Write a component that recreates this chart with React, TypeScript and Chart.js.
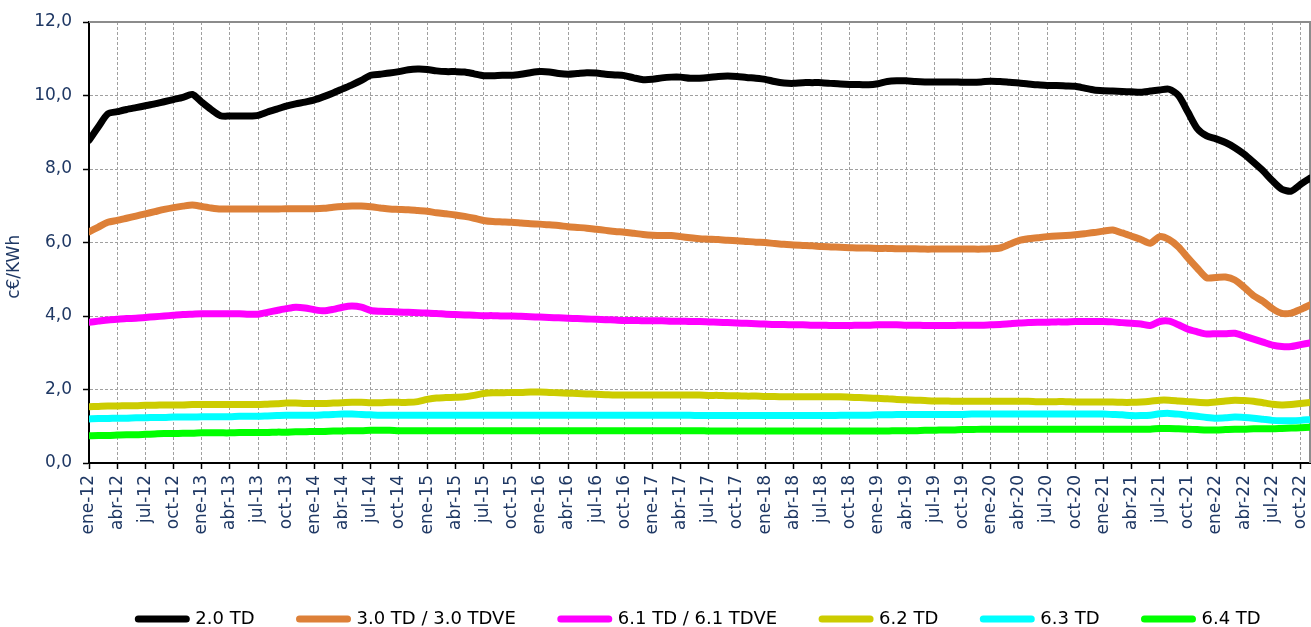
import React, { useEffect, useRef } from 'react';
import { Chart, registerables } from 'chart.js';

Chart.register(...registerables);

// ---- categories ----
const MONTH_NAMES = ['ene', 'feb', 'mar', 'abr', 'may', 'jun', 'jul', 'ago', 'sep', 'oct', 'nov', 'dic'];
const YEARS = ['12', '13', '14', '15', '16', '17', '18', '19', '20', '21', '22'];
const MONTHS_IN_LAST_YEAR = 11; // ene-22 .. nov-22
const CATEGORIES: string[] = [];
YEARS.forEach((yy, yi) => {
  MONTH_NAMES.forEach((m, mi) => {
    if (yi < YEARS.length - 1 || mi < MONTHS_IN_LAST_YEAR) CATEGORIES.push(`${m}-${yy}`);
  });
});

// ---- series (c€/KWh) ----
const SERIES_20TD = [
  8.78, 9.15, 9.50, 9.56, 9.62, 9.67, 9.72, 9.77, 9.83, 9.89, 9.95, 10.03,
  9.82, 9.62, 9.45, 9.44, 9.44, 9.44, 9.46, 9.55, 9.63, 9.71, 9.77, 9.82,
  9.88, 9.97, 10.07, 10.18, 10.29, 10.41, 10.55, 10.58, 10.61, 10.65, 10.70, 10.72,
  10.71, 10.67, 10.65, 10.65, 10.64, 10.59, 10.54, 10.54, 10.55, 10.55, 10.58, 10.62,
  10.65, 10.64, 10.60, 10.58, 10.60, 10.62, 10.61, 10.58, 10.56, 10.54, 10.48, 10.43,
  10.44, 10.48, 10.50, 10.50, 10.47, 10.47, 10.49, 10.52, 10.53, 10.52, 10.49, 10.47,
  10.44, 10.38, 10.34, 10.33, 10.35, 10.35, 10.35, 10.33, 10.31, 10.30, 10.30, 10.29,
  10.32, 10.38, 10.40, 10.40, 10.38, 10.37, 10.37, 10.37, 10.37, 10.36, 10.36, 10.37,
  10.39, 10.38, 10.36, 10.34, 10.31, 10.29, 10.27, 10.27, 10.26, 10.25, 10.20, 10.15,
  10.13, 10.12, 10.11, 10.10, 10.09, 10.12, 10.15, 10.17, 10.00, 9.55, 9.10, 8.90,
  8.82, 8.72, 8.58, 8.40, 8.18, 7.95, 7.68, 7.45, 7.40, 7.58, 7.75,
];
const SERIES_30TD = [
  6.29, 6.42, 6.55, 6.60, 6.66, 6.72, 6.78, 6.84, 6.90, 6.95, 6.99, 7.02,
  6.98, 6.94, 6.91, 6.91, 6.91, 6.91, 6.91, 6.91, 6.91, 6.92, 6.92, 6.92,
  6.92, 6.93, 6.96, 6.98, 6.99, 6.99, 6.97, 6.94, 6.91, 6.90, 6.89, 6.87,
  6.85, 6.81, 6.78, 6.75, 6.71, 6.66, 6.60, 6.57, 6.56, 6.55, 6.53, 6.51,
  6.50, 6.48, 6.46, 6.43, 6.41, 6.39, 6.36, 6.33, 6.30, 6.28, 6.25, 6.22,
  6.20, 6.19, 6.19, 6.16, 6.13, 6.10, 6.09, 6.08, 6.06, 6.05, 6.03, 6.01,
  6.00, 5.97, 5.95, 5.93, 5.92, 5.91, 5.89, 5.88, 5.87, 5.86, 5.85, 5.85,
  5.84, 5.84, 5.83, 5.83, 5.83, 5.82, 5.82, 5.82, 5.82, 5.82, 5.82, 5.82,
  5.83, 5.85, 5.95, 6.05, 6.10, 6.13, 6.16, 6.18, 6.19, 6.21, 6.24, 6.27,
  6.31, 6.34, 6.26, 6.17, 6.08, 5.98, 6.16, 6.08, 5.88, 5.58, 5.30, 5.04,
  5.05, 5.06, 4.98, 4.78, 4.55, 4.40, 4.20, 4.07, 4.08, 4.18, 4.30,
];
const SERIES_61TD = [
  3.83, 3.86, 3.89, 3.91, 3.93, 3.94, 3.96, 3.98, 4.00, 4.02, 4.04, 4.05,
  4.06, 4.06, 4.06, 4.06, 4.06, 4.05, 4.05, 4.10, 4.15, 4.20, 4.24, 4.22,
  4.17, 4.14, 4.18, 4.24, 4.27, 4.24, 4.15, 4.13, 4.12, 4.11, 4.10, 4.09,
  4.08, 4.07, 4.05, 4.04, 4.03, 4.02, 4.01, 4.01, 4.00, 4.00, 3.99, 3.98,
  3.97, 3.96, 3.95, 3.94, 3.93, 3.92, 3.91, 3.90, 3.89, 3.88, 3.88, 3.87,
  3.87, 3.87, 3.86, 3.86, 3.85, 3.85, 3.84, 3.83, 3.82, 3.81, 3.80, 3.79,
  3.78, 3.77, 3.77, 3.76, 3.76, 3.75, 3.75, 3.74, 3.74, 3.74, 3.75, 3.75,
  3.76, 3.76, 3.76, 3.75, 3.75, 3.74, 3.74, 3.74, 3.74, 3.75, 3.75, 3.75,
  3.76, 3.77, 3.79, 3.81, 3.82, 3.83, 3.83, 3.84, 3.84, 3.85, 3.85, 3.85,
  3.85, 3.84, 3.82, 3.80, 3.78, 3.74, 3.85, 3.86, 3.76, 3.64, 3.57, 3.51,
  3.52, 3.52, 3.53, 3.45, 3.37, 3.29, 3.21, 3.17, 3.17, 3.22, 3.27,
];
const SERIES_62TD = [
  1.53, 1.54, 1.55, 1.55, 1.56, 1.56, 1.57, 1.57, 1.58, 1.58, 1.58, 1.59,
  1.59, 1.59, 1.59, 1.59, 1.59, 1.59, 1.59, 1.60, 1.61, 1.63, 1.63, 1.62,
  1.62, 1.62, 1.63, 1.64, 1.65, 1.65, 1.64, 1.64, 1.65, 1.65, 1.65, 1.67,
  1.73, 1.77, 1.78, 1.79, 1.80, 1.84, 1.89, 1.91, 1.91, 1.92, 1.92, 1.93,
  1.93, 1.92, 1.91, 1.90, 1.89, 1.88, 1.87, 1.86, 1.85, 1.85, 1.85, 1.85,
  1.85, 1.85, 1.85, 1.85, 1.85, 1.85, 1.84, 1.84, 1.83, 1.83, 1.82, 1.82,
  1.81, 1.81, 1.80, 1.80, 1.80, 1.80, 1.80, 1.80, 1.80, 1.79, 1.78, 1.77,
  1.76, 1.75, 1.73, 1.72, 1.71, 1.70, 1.69, 1.69, 1.68, 1.68, 1.68, 1.68,
  1.68, 1.68, 1.68, 1.68, 1.68, 1.67, 1.67, 1.67, 1.67, 1.66, 1.66, 1.66,
  1.66, 1.66, 1.65, 1.65, 1.66, 1.68, 1.71, 1.71, 1.69, 1.67, 1.65, 1.64,
  1.66, 1.69, 1.71, 1.70, 1.68, 1.64, 1.60, 1.58, 1.59, 1.62, 1.65,
];
const SERIES_63TD = [
  1.20, 1.21, 1.21, 1.22, 1.22, 1.23, 1.23, 1.24, 1.24, 1.25, 1.25, 1.25,
  1.26, 1.26, 1.26, 1.26, 1.27, 1.27, 1.27, 1.28, 1.29, 1.30, 1.30, 1.30,
  1.30, 1.31, 1.32, 1.33, 1.33, 1.32, 1.31, 1.30, 1.30, 1.30, 1.30, 1.30,
  1.30, 1.30, 1.30, 1.30, 1.30, 1.30, 1.30, 1.30, 1.30, 1.30, 1.30, 1.30,
  1.30, 1.30, 1.30, 1.30, 1.30, 1.30, 1.30, 1.30, 1.30, 1.30, 1.30, 1.30,
  1.30, 1.30, 1.30, 1.30, 1.30, 1.29, 1.29, 1.29, 1.29, 1.29, 1.29, 1.29,
  1.29, 1.29, 1.29, 1.29, 1.29, 1.29, 1.29, 1.29, 1.30, 1.30, 1.30, 1.30,
  1.31, 1.31, 1.32, 1.32, 1.32, 1.32, 1.32, 1.32, 1.32, 1.32, 1.33, 1.33,
  1.33, 1.33, 1.33, 1.33, 1.33, 1.33, 1.33, 1.33, 1.33, 1.33, 1.33, 1.33,
  1.33, 1.32, 1.31, 1.29, 1.29, 1.30, 1.34, 1.35, 1.33, 1.30, 1.27, 1.24,
  1.22, 1.23, 1.25, 1.24, 1.22, 1.19, 1.16, 1.15, 1.15, 1.16, 1.18,
];
const SERIES_64TD = [
  0.74, 0.75, 0.75, 0.76, 0.77, 0.77, 0.78, 0.79, 0.80, 0.80, 0.81, 0.81,
  0.82, 0.82, 0.82, 0.82, 0.83, 0.83, 0.83, 0.83, 0.84, 0.84, 0.85, 0.85,
  0.86, 0.86, 0.87, 0.87, 0.88, 0.88, 0.89, 0.89, 0.89, 0.88, 0.88, 0.88,
  0.88, 0.88, 0.88, 0.88, 0.88, 0.88, 0.88, 0.88, 0.88, 0.88, 0.88, 0.88,
  0.88, 0.88, 0.88, 0.88, 0.88, 0.88, 0.88, 0.88, 0.88, 0.88, 0.88, 0.88,
  0.88, 0.88, 0.88, 0.88, 0.88, 0.88, 0.87, 0.87, 0.87, 0.87, 0.87, 0.87,
  0.87, 0.87, 0.87, 0.87, 0.87, 0.87, 0.87, 0.87, 0.87, 0.87, 0.87, 0.87,
  0.87, 0.87, 0.88, 0.88, 0.88, 0.89, 0.89, 0.90, 0.90, 0.91, 0.91, 0.92,
  0.92, 0.92, 0.92, 0.92, 0.92, 0.92, 0.92, 0.92, 0.92, 0.92, 0.92, 0.92,
  0.92, 0.92, 0.92, 0.92, 0.92, 0.92, 0.94, 0.94, 0.93, 0.92, 0.91, 0.90,
  0.90, 0.91, 0.92, 0.92, 0.93, 0.93, 0.93, 0.94, 0.95, 0.96, 0.97,
];

const SERIES_LABELS = ['2.0 TD', '3.0 TD / 3.0 TDVE', '6.1 TD / 6.1 TDVE', '6.2 TD', '6.3 TD', '6.4 TD'];
const SERIES_COLORS = ['#000000', '#DD8038', '#FF00FF', '#CCCC00', '#00FFFF', '#00FF00'];
const SERIES_DATA = [SERIES_20TD, SERIES_30TD, SERIES_61TD, SERIES_62TD, SERIES_63TD, SERIES_64TD];

const Y_TITLE = 'c€/KWh';
const Y_MIN = 0;
const Y_MAX = 12;
const Y_STEP = 2;

const NAVY = '#1F3864';
const GRID_GREY = '#A0A0A0';
const AXIS_FONT = { family: '"DejaVu Sans", sans-serif', size: 17 };
const LEGEND_FONT = { family: '"DejaVu Sans", sans-serif', size: 18 };

const framePlugin = {
  id: 'frameTopRight',
  beforeDatasetsDraw(chart: any) {
    const { ctx, chartArea } = chart;
    const { left, right, top, bottom } = chartArea;
    ctx.save();
    ctx.strokeStyle = '#8C8C8C';
    ctx.lineWidth = 2;
    ctx.setLineDash([]);
    ctx.beginPath();
    ctx.moveTo(left, top);
    ctx.lineTo(right, top);
    ctx.lineTo(right, bottom);
    ctx.stroke();
    ctx.restore();
  },
};

export default function App() {
  const canvasRef = useRef<HTMLCanvasElement>(null);

  useEffect(() => {
    if (!canvasRef.current) return;
    const datasets = SERIES_DATA.map((data, i) => ({
      label: SERIES_LABELS[i],
      data,
      borderColor: SERIES_COLORS[i],
      backgroundColor: SERIES_COLORS[i],
      borderWidth: 7,
      pointRadius: 0,
      pointHoverRadius: 0,
      tension: 0.25,
      fill: false,
      borderCapStyle: 'round',
      borderJoinStyle: 'round',
      clip: { left: 0, right: 0, top: 8, bottom: 8 },
    }));

    const defaultGenerate = (Chart as any).defaults.plugins.legend.labels.generateLabels;

    const chart = new Chart(canvasRef.current, {
      type: 'line',
      data: { labels: CATEGORIES, datasets: datasets as any },
      options: {
        animation: false,
        responsive: false,
        maintainAspectRatio: false,
        devicePixelRatio: 1,
        layout: { padding: { top: 22, right: 1, left: 0, bottom: 0 } },
        plugins: {
          legend: {
            position: 'bottom',
            fullSize: false,
            labels: {
              usePointStyle: true,
              pointStyle: 'line',
              pointStyleWidth: 48,
              padding: 45,
              color: '#000000',
              font: LEGEND_FONT,
              generateLabels: (c: any) =>
                defaultGenerate(c).map((item: any) => ({ ...item, lineCap: 'round', lineWidth: 7 })),
            },
          },
          tooltip: { enabled: false },
        },
        scales: {
          x: {
            type: 'category',
            offset: false,
            grid: {
              color: (c: any) => (c.index % 3 === 0 && c.index > 0 ? GRID_GREY : 'rgba(0,0,0,0)'),
              lineWidth: 1,
              tickColor: (c: any) => (c.index % 3 === 0 ? '#000000' : 'rgba(0,0,0,0)'),
              tickLength: 6,
              tickWidth: 1.5,
            },
            border: { color: '#000000', width: 2, dash: [3, 2] },
            ticks: {
              autoSkip: false,
              maxRotation: 90,
              minRotation: 90,
              padding: 6,
              color: NAVY,
              font: AXIS_FONT,
              callback: (_v: any, i: number) => (i % 3 === 0 ? CATEGORIES[i] : ''),
            },
            afterFit: (axis: any) => {
              axis.height = 102;
              axis.paddingLeft = 0;
              axis.paddingRight = 0;
            },
          },
          y: {
            min: Y_MIN,
            max: Y_MAX,
            grid: {
              color: (c: any) =>
                c.tick && c.tick.value > Y_MIN && c.tick.value < Y_MAX ? GRID_GREY : 'rgba(0,0,0,0)',
              lineWidth: 1,
              tickColor: '#000000',
              tickLength: 6,
              tickWidth: 1.5,
            },
            border: { color: '#000000', width: 2, dash: [3, 2] },
            ticks: {
              stepSize: Y_STEP,
              padding: 11,
              color: NAVY,
              font: AXIS_FONT,
              callback: (v: any) => Number(v).toFixed(1).replace('.', ','),
            },
            title: {
              display: true,
              text: Y_TITLE + '\u00a0'.repeat(9),
              color: NAVY,
              font: AXIS_FONT,
              padding: { top: 4, bottom: 0 },
            },
            afterFit: (axis: any) => {
              axis.width = 89;
              axis.paddingTop = 0;
              axis.paddingBottom = 0;
            },
          },
        },
      } as any,
      plugins: [framePlugin],
    });
    return () => chart.destroy();
  }, []);

  return (
    <canvas
      ref={canvasRef}
      width={1311}
      height={638}
      style={{ position: 'fixed', left: 0, top: 0, width: 1311, height: 638, display: 'block' }}
    />
  );
}
